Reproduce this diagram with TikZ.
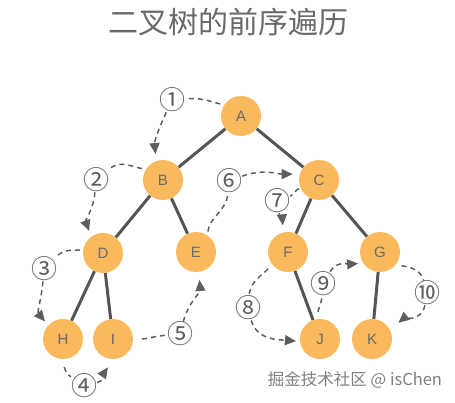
\documentclass[tikz,border=0pt]{standalone}
\usepackage{fontspec}
\setsansfont{Liberation Sans}
\newfontfamily\cjk{Noto Sans CJK SC}
\usetikzlibrary{arrows.meta}

\definecolor{nodeorange}{HTML}{F9B95C}
\definecolor{edgegray}{HTML}{555555}
\definecolor{dashgray}{HTML}{5E5E5E}
\definecolor{textgray}{HTML}{6A6A6A}

\begin{document}
\begin{tikzpicture}[x=1pt, y=1pt]

        \tikzset{vertex/.style={circle, fill=nodeorange, minimum size=40pt, inner sep=0pt,
                text=textgray, font=\sffamily\fontsize{15}{15}\selectfont},
            branch/.style={draw=edgegray, line width=3pt},
            walk/.style={draw=dashgray, line width=1.5pt, dash pattern=on 5pt off 4pt},
            walkarrow/.style={walk, -{Triangle[length=11pt, width=10pt]}},
            order/.style={text=dashgray, inner sep=0pt, font=\cjk\fontsize{26}{26}\selectfont}}

        \useasboundingbox (0, 0) rectangle (455, 402);

        % title
        \node[text=textgray, font=\cjk\fontsize{30}{30}\selectfont] (title) at (228, 380) {二叉树的前序遍历};

        % root and second level
        \node[vertex] (a) at (241, 286) {A};
        \node[vertex] (b) at (163, 222) {B};
        \node[vertex] (c) at (319, 222) {C};

        % third level
        \node[vertex] (d) at (103, 149) {D};
        \node[vertex] (e) at (196, 150) {E};
        \node[vertex] (f) at (288, 150) {F};
        \node[vertex] (g) at (380, 150) {G};

        % leaves
        \node[vertex] (h) at (63, 63) {H};
        \node[vertex] (i) at (113, 63) {I};
        \node[vertex] (j) at (320, 63) {J};
        \node[vertex] (k) at (372, 63) {K};

        % tree edges
        \draw[branch] (a) -- (b);
        \draw[branch] (a) -- (c);
        \draw[branch] (b) -- (d);
        \draw[branch] (b) -- (e);
        \draw[branch] (d) -- (h);
        \draw[branch] (d) -- (i);
        \draw[branch] (c) -- (f);
        \draw[branch] (c) -- (g);
        \draw[branch] (f) -- (j);
        \draw[branch] (g) -- (k);

        % step numbers
        \node[order] (n1) at (172, 302) {①};
        \node[order] (n2) at (96, 222) {②};
        \node[order] (n3) at (44, 133) {③};
        \node[order] (n4) at (84, 16) {④};
        \node[order] (n5) at (180, 68) {⑤};
        \node[order] (n6) at (229, 221) {⑥};
        \node[order] (n7) at (277, 201) {⑦};
        \node[order] (n8) at (248, 94) {⑧};
        \node[order] (n9) at (323, 118) {⑨};
        \node[order] (n10) at (427, 109) {⑩};

        % traversal, one step after the other
        \draw[walk, shorten <=4pt] (a.147) to[out=165, in=5] (n1);
        \draw[walkarrow, shorten >=7pt] (n1) to[out=-115, in=95] (b.110);

        \draw[walk, shorten <=4pt] (b.148) to[out=170, in=40] (n2);
        \draw[walkarrow, shorten >=6pt] (n2) to[out=-95, in=110] (d.126);

        \draw[walk, shorten <=3pt] (d.172) to[out=180, in=45] (n3);
        \draw[walkarrow, shorten >=5pt] (n3) to[out=-95, in=130] (h.137);

        \draw[walk, shorten <=8pt] (h.-90) to[out=-80, in=145] (n4);
        \draw[walkarrow, shorten >=10pt] (n4) to[out=15, in=-125] (i.-88);

        \draw[walk, shorten <=9pt] (i.0) to[out=0, in=185] (n5);
        \draw[walkarrow, shorten >=8pt] (n5) to[out=75, in=-85] (e.-82);

        \draw[walk, shorten <=4pt] (e.55) to[out=85, in=-95] (n6);
        \draw[walkarrow, shorten >=7pt] (n6) to[out=20, in=180] (c.163);

        \draw[walk, shorten <=2pt] (c.207) to[out=170, in=20] (n7);
        \draw[walkarrow, shorten >=7pt] (n7) to[out=-80, in=95] (f.103);

        \draw[walk, shorten <=6pt] (f.217) to[out=230, in=85] (n8);
        \draw[walkarrow, shorten >=4pt] (n8) to[out=-75, in=175] (j.187);

        \draw[walk, shorten <=7pt] (j.94) to[out=95, in=-95] (n9);
        \draw[walkarrow, shorten >=5pt] (n9) to[out=60, in=185] (g.213);

        \draw[walk, shorten <=6pt] (g.-39) to[out=-10, in=105] (n10);
        \draw[walkarrow, shorten >=11pt] (n10) to[out=-100, in=40] (k.27);

        % watermark
        \node[text=textgray!85, font=\cjk\fontsize{16.5}{16.5}\selectfont] (mark) at (355, 22) {掘金技术社区 @ isChen};

\end{tikzpicture}
\end{document}
